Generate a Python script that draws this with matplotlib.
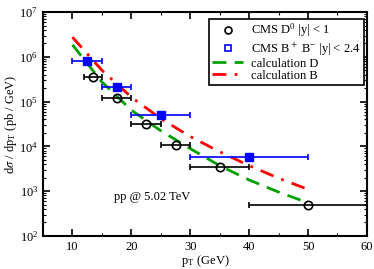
import matplotlib
matplotlib.use("Agg")
import matplotlib.pyplot as plt
from matplotlib.lines import Line2D
import numpy as np

plt.rcParams["font.family"] = ["Liberation Serif", "DejaVu Serif"]
plt.rcParams["mathtext.fontset"] = "stix"
plt.rcParams["font.size"] = 9

# CMS D0 data (|y| < 1)
d_pt = [13.5, 17.5, 22.5, 27.5, 35.0, 50.0]
d_lo = [12.0, 15.0, 20.0, 25.0, 30.0, 40.0]
d_hi = [15.0, 20.0, 25.0, 30.0, 40.0, 60.0]
d_val = [3.5e5, 1.2e5, 3.1e4, 1.07e4, 3.5e3, 4.9e2]

# CMS B+ B- data (|y| < 2.4)
b_pt = [12.5, 17.5, 25.0, 40.0]
b_lo = [10.0, 15.0, 20.0, 30.0]
b_hi = [15.0, 20.0, 30.0, 50.0]
b_val = [8.0e5, 2.1e5, 5.0e4, 5.7e3]

# calculations (log10 values)
calc_pt = [10, 15, 20, 25, 30, 35, 40, 45, 50]
calc_d_log = [6.27, 5.44, 4.81, 4.35, 3.95, 3.57, 3.25, 2.98, 2.74]
calc_b_log = [6.44, 5.70, 5.10, 4.62, 4.22, 3.88, 3.57, 3.29, 3.04]

fig = plt.figure(figsize=(3.74, 2.69), dpi=100)
ax = fig.add_axes([0.115, 0.123, 0.866, 0.832])

calc_d = 10 ** np.array(calc_d_log)
calc_b = 10 ** np.array(calc_b_log)
ax.plot(calc_pt, calc_d, color="#00a000", lw=2.0, dashes=(5, 3), zorder=3)
ax.plot(calc_pt, calc_b, color="red", lw=2.0, dashes=(5, 3, 1, 3), zorder=3)

d_xerr = [np.array(d_pt) - np.array(d_lo), np.array(d_hi) - np.array(d_pt)]
b_xerr = [np.array(b_pt) - np.array(b_lo), np.array(b_hi) - np.array(b_pt)]
ax.errorbar(d_pt, d_val, xerr=d_xerr, fmt="o", ms=6, mfc="none", mec="black",
            mew=1.2, ecolor="black", elinewidth=1.2, capsize=2.5, capthick=1.2, zorder=4)
ax.errorbar(b_pt, b_val, xerr=b_xerr, fmt="s", ms=5.5, mfc="blue", mec="blue",
            ecolor="blue", elinewidth=1.2, capsize=2.5, capthick=1.2, zorder=4)

ax.set_yscale("log")
ax.set_xlim(5, 60)
ax.set_ylim(1e2, 1e7)
ax.set_xticks([10, 20, 30, 40, 50, 60])
ax.set_xticks(np.arange(5, 60, 5), minor=True)
ax.tick_params(which="both", direction="in", top=True, right=True)
ax.tick_params(which="major", length=5, width=1.2)
ax.tick_params(which="minor", length=2.5, width=0.8)
for s in ax.spines.values():
    s.set_linewidth(1.5)

ax.set_xlabel(r"p$_\mathregular{T}$ (GeV)", labelpad=0)
ax.set_ylabel(r"d$\sigma$ / dp$_\mathregular{T}$ (pb / GeV)", labelpad=0)
ax.text(0.22, 0.16, "pp @ 5.02 TeV", transform=ax.transAxes, fontsize=9)

handles = [
    Line2D([], [], ls="none", marker="o", ms=5, mfc="none", mec="black", mew=1.2),
    Line2D([], [], ls="none", marker="s", ms=5, mfc="none", mec="blue", mew=1.2),
    Line2D([], [], color="#00a000", lw=2.0, dashes=(5, 3)),
    Line2D([], [], color="red", lw=2.0, dashes=(5, 3, 1, 3)),
]
labels = [r"CMS D$^\mathregular{0}$ |y| < 1", r"CMS B$^+$ B$^\mathregular{-}$ |y| < 2.4",
          "calculation D", "calculation B"]
leg = ax.legend(handles, labels, loc="upper right", fancybox=False, framealpha=1,
                edgecolor="black", fontsize=9, labelspacing=0.0, handlelength=2.5,
                handletextpad=0.6, borderpad=0.25, borderaxespad=0,
                bbox_to_anchor=(0.99, 0.97))
leg.get_frame().set_linewidth(1.2)

fig.savefig("out.png", dpi=100)
